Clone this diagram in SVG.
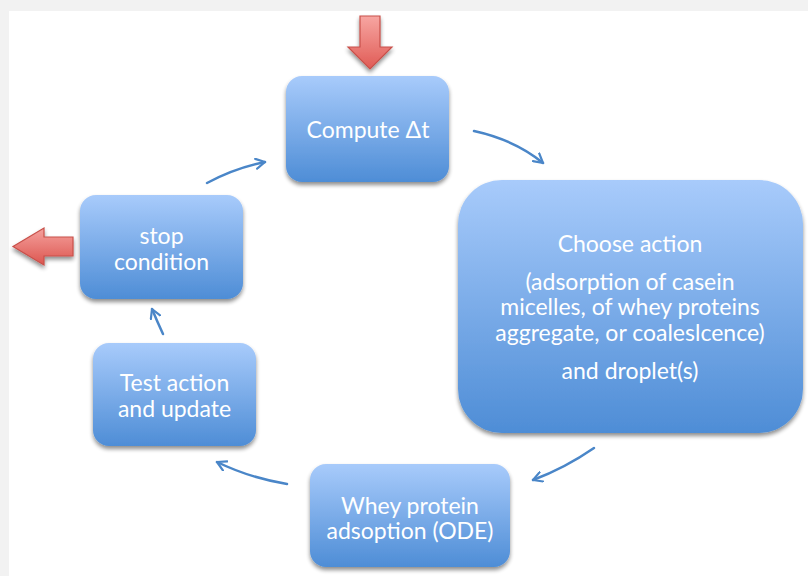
<svg xmlns="http://www.w3.org/2000/svg" width="808" height="576" viewBox="0 0 808 576">
<defs>
<linearGradient id="bg" x1="0" y1="0" x2="0" y2="1">
<stop offset="0" stop-color="#a8cbfb"/>
<stop offset="1" stop-color="#4e8dd6"/>
</linearGradient>
<linearGradient id="rg" x1="0" y1="0" x2="0" y2="1">
<stop offset="0" stop-color="#f7a6a2"/>
<stop offset="1" stop-color="#e05b55"/>
</linearGradient>
<linearGradient id="rgh" x1="0" y1="0" x2="0" y2="1">
<stop offset="0" stop-color="#f5a19d"/>
<stop offset="1" stop-color="#dc5650"/>
</linearGradient>
<filter id="sh" x="-10%" y="-10%" width="120%" height="130%">
<feGaussianBlur in="SourceAlpha" stdDeviation="2"/>
<feOffset dx="0" dy="3" result="b"/>
<feComponentTransfer><feFuncA type="linear" slope="0.45"/></feComponentTransfer>
<feMerge><feMergeNode/><feMergeNode in="SourceGraphic"/></feMerge>
</filter>
<marker id="ah" viewBox="0 0 12 12" refX="10" refY="6" markerWidth="12" markerHeight="12" markerUnits="userSpaceOnUse" orient="auto">
<path d="M1,1 L10,6 L1,11" fill="none" stroke="#4a86c8" stroke-width="2.2" stroke-linecap="round" stroke-linejoin="round"/>
</marker>
</defs>
<style>
.box{fill:url(#bg);filter:url(#sh)}
.t{font-family:Lato,"Open Sans","Liberation Sans",sans-serif;font-size:23px;fill:#ffffff;text-anchor:middle}
.c{fill:none;stroke:#4a86c8;stroke-width:2.5;stroke-linecap:round;marker-end:url(#ah)}
.ra{stroke:#c8504a;stroke-width:1.2;filter:url(#sh)}
</style>
<rect x="0" y="0" width="808" height="576" fill="#ffffff"/>
<rect x="0" y="0" width="808" height="11" fill="#f2f2f2"/>
<rect x="0" y="0" width="9" height="576" fill="#f2f2f2"/>

<g id="start-arrow">
<path class="ra" fill="url(#rg)" d="M360,16 L380,16 L380,47 L392,47 L370,69 L348,47 L360,47 Z"/>
</g>
<g id="end-arrow">
<path class="ra" fill="url(#rgh)" d="M73,237 L73,256 L44,256 L44,265 L13,246.5 L44,228 L44,237 Z"/>
</g>

<g id="compute">
<rect class="box" x="286" y="76" width="163" height="106" rx="16"/>
<text class="t" x="368" y="138">Compute Δt</text>
</g>
<g id="choose">
<rect class="box" x="458" y="180" width="345" height="253" rx="44"/>
<text class="t" x="630" y="252">Choose action</text>
<text class="t" x="630" y="290">(adsorption of casein</text>
<text class="t" x="630" y="315">micelles, of whey proteins</text>
<text class="t" x="630" y="341">aggregate, or coaleslcence)</text>
<text class="t" x="630" y="379">and droplet(s)</text>
</g>
<g id="whey">
<rect class="box" x="310" y="464" width="200" height="103" rx="16"/>
<text class="t" x="410" y="514">Whey protein</text>
<text class="t" x="410" y="539">adsoption (ODE)</text>
</g>
<g id="test">
<rect class="box" x="93" y="343" width="163" height="103" rx="16"/>
<text class="t" x="174.5" y="391">Test action</text>
<text class="t" x="174.5" y="417">and update</text>
</g>
<g id="stop">
<rect class="box" x="80" y="195" width="163" height="104" rx="16"/>
<text class="t" x="161.5" y="244">stop</text>
<text class="t" x="161.5" y="270">condition</text>
</g>

<g id="connectors">
<path class="c" d="M474,131 Q515,140 543,163"/>
<path class="c" d="M594,448 Q565,468 533,480"/>
<path class="c" d="M287,484 Q250,478 217,462"/>
<path class="c" d="M163,334 Q157,321 152,309"/>
<path class="c" d="M207,183 Q235,168 265,162"/>
</g>
</svg>
